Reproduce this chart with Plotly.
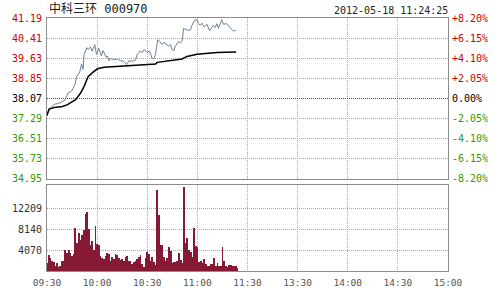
import plotly.graph_objects as go

title_text = "中科三环 000970"
date_text = "2012-05-18 11:24:25"
prev_close = 38.07

price_levels = [34.95, 35.73, 36.51, 37.29, 38.07, 38.85, 39.63, 40.41, 41.19]
pct_labels = ["-8.20%", "-6.15%", "-4.10%", "-2.05%", "0.00%", "+2.05%", "+4.10%", "+6.15%", "+8.20%"]

time_ticks = [0, 30, 60, 90, 120, 150, 180, 210, 240]
time_labels = ["09:30", "10:00", "10:30", "11:00", "11:30", "13:30", "14:00", "14:30", "15:00"]

vol_ticks = [4070, 8140, 12209]

# price line (minute index, price)
price_min = [0, 1.4, 2.4, 4.4, 6.4, 8.3, 10.7, 12.7, 14.7, 16.7, 17.7, 19.6, 20.7, 21.6, 22.2,
             23.8, 24.8, 26, 27, 28.6, 29.6, 31, 32.6, 33.5, 35.5, 36.2, 37.1, 38.1, 40.1,
             42.1, 44.1, 46.0, 47.6, 49.0, 51.0, 53, 54, 55.6, 57, 58, 60, 61.3, 63, 63.9,
             64.9, 66.3, 67.5, 68.9, 69.9, 71.9, 72.8, 73.9, 74.9, 75.8, 76.8, 78.8, 79.8,
             80.8, 81.8, 83.8, 85.8, 86.8, 88.3, 89.7, 90.7, 91.7, 92.7, 94.1, 95.7, 97.3,
             98.7, 99.6, 100.7, 101.7, 102.6, 103.6, 104.6, 105.6, 107.6, 109.2, 110.6,
             111.6, 113.2]
price_val = [37.41, 37.66, 37.72, 37.85, 37.87, 37.91, 38.01, 38.29, 38.35, 38.60, 38.91,
             39.10, 39.41, 39.20, 39.78, 40.04, 39.97, 40.07, 39.90, 40.16, 39.78, 40.01,
             39.72, 39.93, 39.66, 39.72, 39.53, 39.62, 39.57, 39.60, 39.53, 39.51, 39.38,
             39.53, 39.51, 39.56, 39.78, 39.91, 39.85, 39.97, 39.85, 39.91, 39.62, 39.60,
             39.78, 40.35, 40.28, 40.16, 40.25, 40.16, 40.10, 40.16, 39.97, 39.91, 40.10,
             40.28, 40.22, 40.28, 40.79, 40.72, 40.72, 40.91, 41.10, 41.12, 40.97, 40.91,
             40.99, 40.84, 40.95, 40.70, 40.84, 40.91, 40.82, 40.97, 40.79, 40.97, 41.12,
             40.95, 40.97, 40.84, 40.72, 40.68, 40.72]

# average price line
avg_min = [0, 1.2, 4.4, 9.3, 12.3, 15.3, 17.3, 18.3, 20.2, 22.2, 24.6, 27.2, 30.2, 34.1,
           42.1, 52, 65, 66, 80.8, 83.8, 89.8, 101.7, 113.2]
avg_val = [37.41, 37.66, 37.72, 37.76, 37.83, 37.97, 38.03, 38.12, 38.29, 38.54, 38.91,
           39.07, 39.22, 39.28, 39.31, 39.35, 39.41, 39.47, 39.60, 39.70, 39.78, 39.85, 39.87]

# volume per minute
volume = [1550, 3160, 2600, 1920, 1860, 1120, 1670, 800, 930, 2050, 1990, 4220, 3530, 4220,
          3470, 2980, 3410, 8370, 5520, 7440, 6140, 7130, 8060, 11100, 11470, 8180, 5150,
          5950, 4090, 8870, 5210, 5020, 2980, 2540, 2420, 2980, 3590, 3290, 1990, 2790,
          2300, 3350, 3160, 2600, 2110, 2420, 2050, 2730, 3040, 1920, 2050, 1430, 1800,
          2050, 2300, 2850, 3100, 1430,
          800, 2670, 3790, 3290, 1920, 2850, 1860, 1300, 15700, 10850, 5150, 5020, 2790,
          2050, 2540, 4650, 3900, 1550, 1860, 1740, 2050, 3530, 2230, 1550, 16400, 5580,
          6510, 4220, 3780, 2790, 8370, 4840, 4770, 1740, 1920, 1550, 2360, 1360, 930, 930,
          1360, 1430, 2540, 930, 1610, 990, 1120, 4770, 2050, 1120, 870, 1300, 1300, 1120,
          930, 1050, 680]
vol_min = list(range(len(volume)))

RED = "#cc0000"
GREEN = "#339900"
BLACK = "#000000"
FONT = "DejaVu Sans Mono, Noto Sans CJK SC"


def col(v):
    if v > prev_close + 1e-9:
        return RED
    if v < prev_close - 1e-9:
        return GREEN
    return BLACK


left_text = [f'<span style="color:{col(v)}">{v:.2f}</span>' for v in price_levels]
right_text = [f'<span style="color:{col(v)}">{t}</span>' for v, t in zip(price_levels, pct_labels)]

fig = go.Figure()
fig.add_trace(go.Bar(x=vol_min, y=volume, width=0.5,
                     marker=dict(color="#861a34", line=dict(width=0)),
                     xaxis="x2", yaxis="y3", showlegend=False))
fig.add_trace(go.Scatter(x=price_min, y=price_val, mode="lines", line=dict(color="#6d8096", width=1),
                         xaxis="x", yaxis="y", showlegend=False))
fig.add_trace(go.Scatter(x=avg_min, y=avg_val, mode="lines", line=dict(color="#000000", width=1.5),
                         xaxis="x", yaxis="y", showlegend=False))
# invisible trace to activate right axis
fig.add_trace(go.Scatter(x=[0], y=[prev_close], mode="markers", marker=dict(opacity=0),
                         xaxis="x", yaxis="y2", showlegend=False, hoverinfo="skip"))

grid = dict(showgrid=True, gridcolor="#a8a8a8", griddash="1px,1px", gridwidth=1)
border = dict(showline=True, linecolor="#8c8c8c", linewidth=1, mirror=True)

fig.update_layout(
    width=500, height=300,
    margin=dict(l=46, r=51, t=18, b=21),
    paper_bgcolor="white", plot_bgcolor="white",
    font=dict(family=FONT, size=10, color="#333333"),
    bargap=0,
    xaxis=dict(domain=[0, 1], range=[0, 240], tickvals=time_ticks, showticklabels=False,
               zeroline=False, anchor="y", **grid, **border),
    yaxis=dict(domain=[0.364, 1], range=[price_levels[0], price_levels[-1]],
               tickvals=price_levels, ticktext=left_text, zeroline=False,
               ticks="outside", ticklen=2, tickcolor="rgba(0,0,0,0)",
               tickfont=dict(size=10), anchor="x", **grid, **border),
    yaxis2=dict(overlaying="y", side="right", range=[price_levels[0], price_levels[-1]],
                tickvals=price_levels, ticktext=right_text, showgrid=False, zeroline=False,
                ticks="outside", ticklen=1, tickcolor="rgba(0,0,0,0)",
                tickfont=dict(size=10), anchor="x"),
    xaxis2=dict(domain=[0, 1], range=[0, 240], tickvals=time_ticks, ticktext=time_labels,
                zeroline=False, anchor="y3", ticks="outside", ticklen=3,
                tickcolor="rgba(0,0,0,0)", tickfont=dict(size=9.5, color="#555555"), **grid, **border),
    yaxis3=dict(domain=[0, 0.341], range=[0, 16750], tickvals=vol_ticks,
                ticktext=[str(v) for v in vol_ticks], zeroline=False, anchor="x2",
                ticks="outside", ticklen=2, tickcolor="rgba(0,0,0,0)",
                tickfont=dict(size=10, color="#333333"), **grid, **border),
    shapes=[dict(type="line", xref="x", yref="y", x0=0, x1=240, y0=prev_close, y1=prev_close,
                 line=dict(color="#b22222", width=1, dash="1px,1px"))],
    annotations=[
        dict(text=title_text, xref="paper", yref="paper", x=0, y=1, xanchor="left",
             yanchor="bottom", showarrow=False, font=dict(size=12, color="#222222")),
        dict(text=date_text, xref="paper", yref="paper", x=1.005, y=1, xanchor="right",
             yanchor="bottom", showarrow=False, font=dict(size=10, color="#222222")),
    ],
)

fig.write_html("out.html")
